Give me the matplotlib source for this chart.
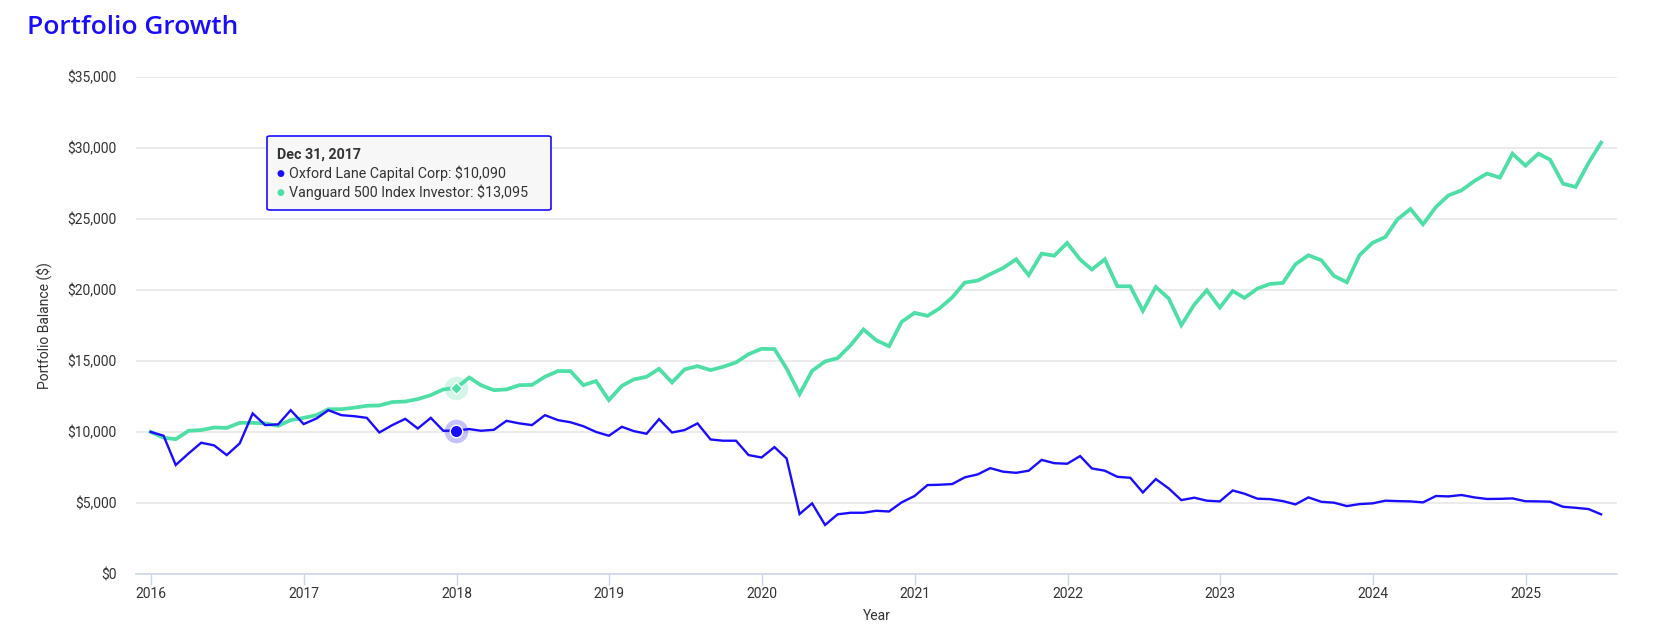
import matplotlib.pyplot as plt
import matplotlib.dates as mdates
from matplotlib.patches import FancyBboxPatch
from matplotlib.ticker import FuncFormatter
import pandas as pd

# monthly balances, Dec 2015 .. Jun 2025
oxford = [10000, 9730, 7670, 8490, 9240, 9050, 8370, 9190, 11300, 10480,
          10530, 11530, 10550, 10950, 11530, 11180, 11110, 10990, 9960, 10480,
          10920, 10240, 10990, 10080, 10090, 10200, 10080, 10150, 10780, 10600,
          10480, 11180, 10830, 10680, 10400, 10000, 9730, 10360, 10060, 9870,
          10900, 9960, 10130, 10600, 9470, 9380, 9380, 8370, 8200, 8930,
          8130, 4220, 4970, 3450, 4200, 4310, 4310, 4450, 4400, 5040,
          5490, 6260, 6280, 6330, 6800, 7010, 7450, 7200, 7120, 7270,
          8030, 7800, 7760, 8300, 7430, 7270, 6840, 6770, 5740, 6680,
          6020, 5200, 5370, 5160, 5110, 5880, 5650, 5300, 5270, 5130,
          4900, 5390, 5080, 5020, 4780, 4920, 4970, 5160, 5130, 5110,
          5040, 5490, 5460, 5560, 5390, 5280, 5290, 5320, 5120, 5110,
          5090, 4730, 4660, 4570, 4200]
vanguard = [10000, 9590, 9490, 10080, 10130, 10310, 10280, 10640, 10640, 10600,
            10430, 10830, 10990, 11180, 11600, 11600, 11700, 11840, 11860, 12100,
            12140, 12310, 12590, 12990, 13095, 13830, 13290, 12940, 12990, 13290,
            13310, 13880, 14280, 14280, 13290, 13580, 12240, 13240, 13690, 13880,
            14440, 13480, 14400, 14630, 14350, 14580, 14890, 15470, 15850, 15830,
            14460, 12660, 14300, 14960, 15190, 16100, 17210, 16460, 16030, 17740,
            18380, 18170, 18680, 19460, 20510, 20650, 21100, 21540, 22150, 21030,
            22550, 22400, 23300, 22130, 21430, 22150, 20250, 20250, 18520, 20200,
            19390, 17510, 18960, 19970, 18750, 19920, 19430, 20090, 20410, 20490,
            21800, 22430, 22080, 20980, 20530, 22430, 23300, 23720, 24960, 25690,
            24610, 25830, 26650, 27000, 27660, 28180, 27900, 29580, 28740, 29580,
            29160, 27470, 27240, 28930, 30360]
dates = pd.date_range('2015-12-31', periods=len(oxford), freq='ME')

hover_idx = 24  # Dec 31, 2017
tooltip_date = 'Dec 31, 2017'
tooltip_rows = ['Oxford Lane Capital Corp: $10,090',
                'Vanguard 500 Index Investor: $13,095']

blue = '#1a0dff'
green = '#4ddfa6'
text_col = '#333333'

plt.rcParams['font.family'] = ['Roboto', 'DejaVu Sans']

W, H = 1662, 626
fig = plt.figure(figsize=(W / 100, H / 100), dpi=100)
ax = fig.add_axes([136 / W, 1 - 574 / H, (1617 - 136) / W, (574 - 76.7) / H])

ax.plot(dates, vanguard, color=green, linewidth=2.7, solid_joinstyle='miter', zorder=3)
ax.plot(dates, oxford, color=blue, linewidth=1.7, solid_joinstyle='miter', zorder=4)

# hover markers
hx = dates[hover_idx]
ax.plot(hx, vanguard[hover_idx], 'o', ms=17, color=green, alpha=0.25, mec='none', zorder=5)
ax.plot(hx, vanguard[hover_idx], 'D', ms=6.5, color=green, mec='white', mew=1, zorder=6)
ax.plot(hx, oxford[hover_idx], 'o', ms=17, color=blue, alpha=0.25, mec='none', zorder=5)
ax.plot(hx, oxford[hover_idx], 'o', ms=9, color=blue, mec='white', mew=1, zorder=6)

ax.set_ylim(0, 35000)
ax.set_yticks(range(0, 35001, 5000))
ax.yaxis.set_major_formatter(FuncFormatter(lambda v, _: f'${v:,.0f}'))
ax.set_xlim(pd.Timestamp('2015-11-26'), pd.Timestamp('2025-08-07'))
ax.xaxis.set_major_locator(mdates.YearLocator())
ax.xaxis.set_major_formatter(mdates.DateFormatter('%Y'))

ax.grid(axis='y', color='#e6e6e6', linewidth=1.1)
ax.set_axisbelow(True)
for s in ['top', 'right', 'left']:
    ax.spines[s].set_visible(False)
ax.spines['bottom'].set_color('#ccd6eb')
ax.spines['bottom'].set_linewidth(1.2)
ax.tick_params(axis='y', length=0, pad=13.7, labelsize=10, labelcolor=text_col)
ax.tick_params(axis='x', length=8, width=1, color='#ccd6eb', pad=1.5,
               labelsize=10, labelcolor=text_col)

ax.set_ylabel('Portfolio Balance ($)', fontsize=10, color=text_col)
ax.yaxis.set_label_coords(-0.057, 0.5)
ax.set_xlabel('Year', fontsize=10, color=text_col, va='center')
ax.xaxis.set_label_coords(0.5, -0.0845)

fig.text(26.7 / W, 1 - 27.8 / H, 'Portfolio Growth', fontsize=19, color=blue,
         family=['Open Sans', 'DejaVu Sans'], fontweight=600, va='center', ha='left')

# tooltip
bx0, by0, bx1, by1 = 267, 136, 551, 210
box = FancyBboxPatch((bx0 / W, 1 - by1 / H), (bx1 - bx0) / W, (by1 - by0) / H,
                     boxstyle='round,pad=0,rounding_size=0.002',
                     transform=fig.transFigure, facecolor='#f7f7f7',
                     edgecolor=blue, linewidth=1.2, zorder=10)
fig.patches.append(box)
fig.text(276.7 / W, 1 - 154.3 / H, tooltip_date, fontsize=10.3, fontweight='bold',
         color=text_col, va='center', zorder=11)
for i, (row, c) in enumerate(zip(tooltip_rows, [blue, green])):
    yy = 1 - (173.3 + 19 * i) / H
    fig.text(280.7 / W, yy, '\u25cf', fontsize=6.5, color=c, va='center', ha='center', zorder=11)
    fig.text(289.3 / W, yy, row, fontsize=10.3, color=text_col, va='center', zorder=11)

fig.savefig('out.png', dpi=100, facecolor='white')
